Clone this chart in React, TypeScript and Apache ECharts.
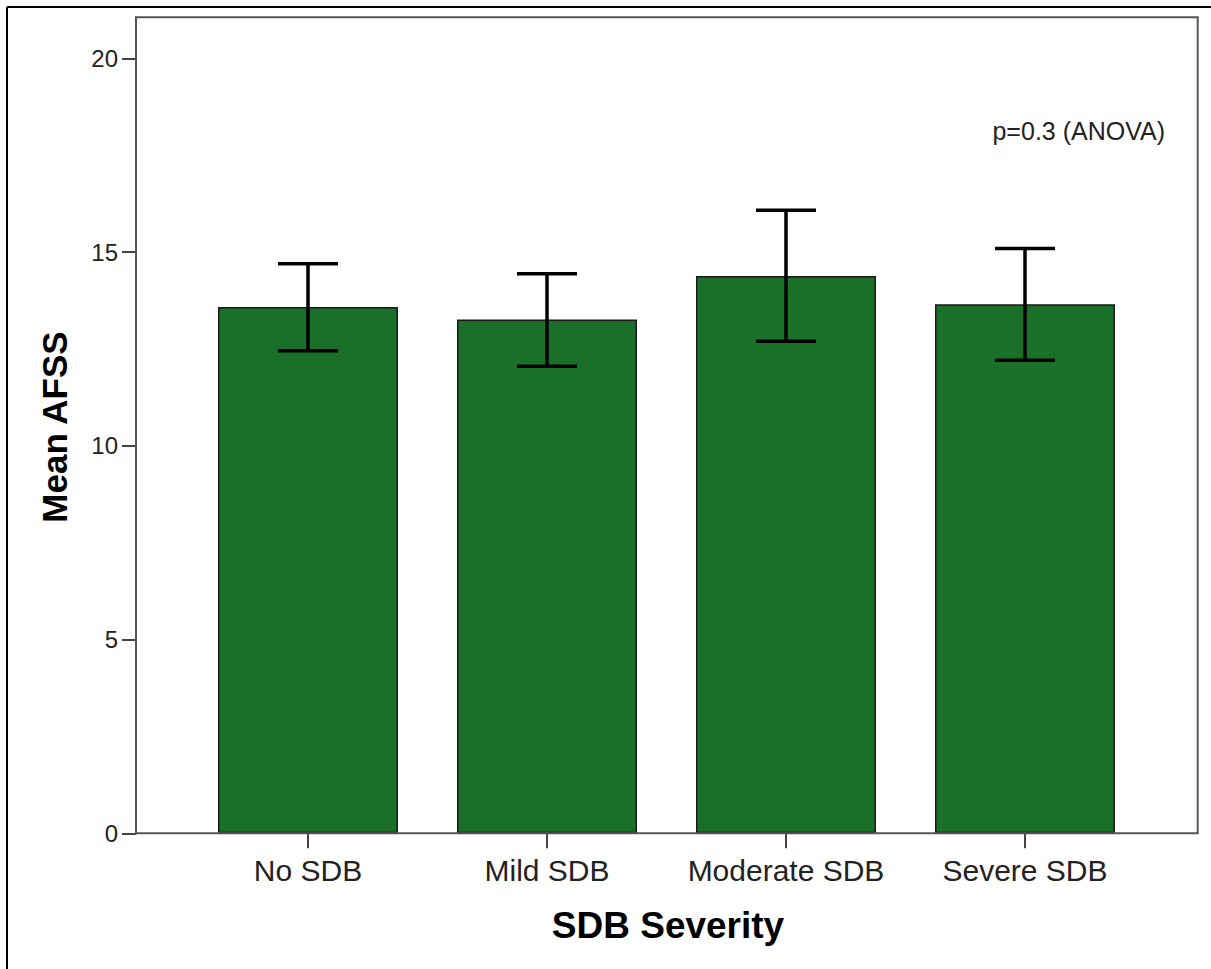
import React, { useEffect, useRef } from "react";
import * as echarts from "echarts";

const categories = ["No SDB", "Mild SDB", "Moderate SDB", "Severe SDB"];
const meanValues = [13.58, 13.26, 14.38, 13.65];
const lowerCI = [12.45, 12.05, 12.7, 12.21];
const upperCI = [14.7, 14.44, 16.08, 15.09];
const yTicks = [0, 5, 10, 15, 20];
const annotation = "p=0.3 (ANOVA)";
const xTitle = "SDB Severity";
const yTitle = "Mean AFSS";

export default function App() {
  const ref = useRef<HTMLDivElement>(null);
  useEffect(() => {
    if (!ref.current) return;
    const chart = echarts.init(ref.current, null, { renderer: "svg" });
    const font = "'Liberation Sans', Arial, sans-serif";
    const errData = categories.map((_, i) => [i, lowerCI[i], upperCI[i]]);
    chart.setOption({
      animation: false,
      backgroundColor: "#ffffff",
      textStyle: { fontFamily: font },
      grid: { left: 188.5, right: 1211 - 1144.5, top: 19.5, bottom: 969 - 833.3, containLabel: false },
      xAxis: {
        type: "category",
        data: categories,
        axisLine: { show: false },
        axisTick: { show: true, alignWithLabel: true, interval: 0, length: 15, lineStyle: { color: "#444", width: 2 } },
        axisLabel: { fontSize: 30, color: "#222", margin: 22, interval: 0, hideOverlap: false, fontFamily: font },
        splitLine: { show: false },
      },
      yAxis: {
        type: "value",
        min: 0,
        max: 21,
        interval: 5,
        offset: 52.5,
        axisLine: { show: true, lineStyle: { color: "#444", width: 2 } },
        axisTick: { show: true, length: 14, customValues: yTicks, lineStyle: { color: "#444", width: 2 } },
        axisLabel: {
          fontSize: 24,
          color: "#222",
          margin: 18,
          fontFamily: font,
          customValues: yTicks,
          formatter: (v: number) => (yTicks.includes(v) ? String(v) : ""),
        },
        splitLine: { show: false },
      },
      graphic: [
        {
          type: "line",
          shape: { x1: 7, y1: 7, x2: 1211, y2: 7 },
          style: { stroke: "#000", lineWidth: 2 },
          silent: true,
        },
        {
          type: "line",
          shape: { x1: 7, y1: 7, x2: 7, y2: 969 },
          style: { stroke: "#000", lineWidth: 2 },
          silent: true,
        },
        {
          type: "rect",
          shape: { x: 136, y: 17.3, width: 1197.7 - 136, height: 833.3 - 17.3 },
          style: { fill: "none", stroke: "#555", lineWidth: 2 },
          silent: true,
          z: 10,
        },
        {
          type: "text",
          x: 1165,
          y: 131,
          style: {
            text: annotation,
            fontSize: 25,
            fill: "#222",
            fontFamily: font,
            align: "right",
            verticalAlign: "middle",
          },
        },
        {
          type: "text",
          x: 668,
          y: 925,
          style: {
            text: xTitle,
            fontSize: 37,
            fontWeight: "bold",
            fill: "#000",
            fontFamily: font,
            align: "center",
            verticalAlign: "middle",
          },
        },
        {
          type: "text",
          x: 54,
          y: 427,
          rotation: Math.PI / 2,
          style: {
            text: yTitle,
            fontSize: 35,
            fontWeight: "bold",
            fill: "#000",
            fontFamily: font,
            align: "center",
            verticalAlign: "middle",
          },
        },
      ],
      series: [
        {
          type: "bar",
          data: meanValues,
          barWidth: "75.3%",
          itemStyle: { color: "#1B7029", borderColor: "#1a1a1a", borderWidth: 1.5 },
          z: 2,
        },
        {
          type: "custom",
          data: errData,
          z: 5,
          renderItem: (params: any, api: any) => {
            const i = api.value(0);
            const lo = api.coord([i, api.value(1)]);
            const hi = api.coord([i, api.value(2)]);
            const half = 30;
            const style = { stroke: "#000", lineWidth: 3.5 };
            return {
              type: "group",
              children: [
                { type: "line", shape: { x1: hi[0], y1: hi[1], x2: lo[0], y2: lo[1] }, style },
                { type: "line", shape: { x1: hi[0] - half, y1: hi[1], x2: hi[0] + half, y2: hi[1] }, style },
                { type: "line", shape: { x1: lo[0] - half, y1: lo[1], x2: lo[0] + half, y2: lo[1] }, style },
              ],
            };
          },
        },
      ],
    });
    return () => chart.dispose();
  }, []);
  return (
    <div
      ref={ref}
      style={{ position: "absolute", left: 0, top: 0, width: 1211, height: 969 }}
    />
  );
}
